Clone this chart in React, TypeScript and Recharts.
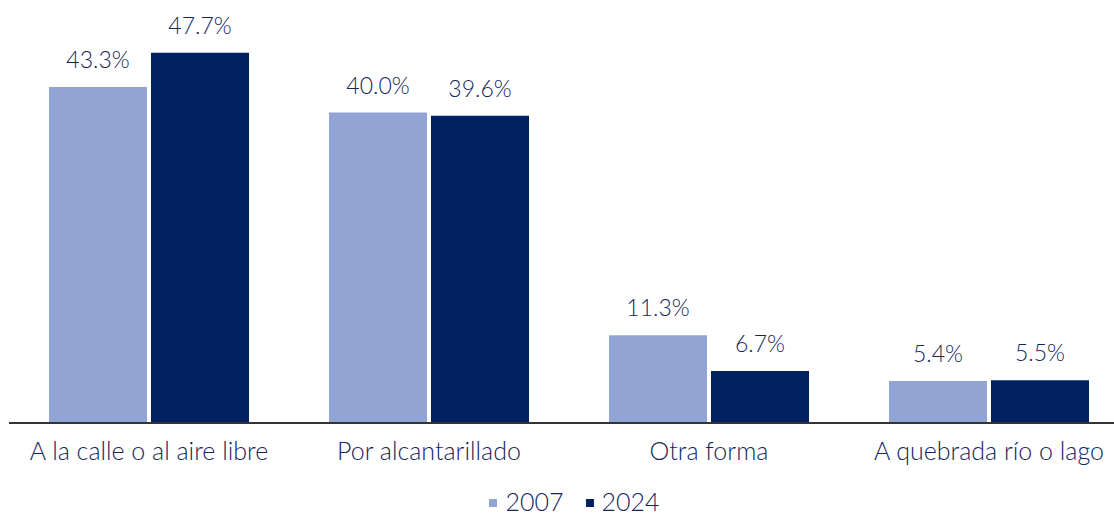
import React from 'react';
import { BarChart, Bar, XAxis, YAxis, LabelList, Legend } from 'recharts';

const categories = ['A la calle o al aire libre', 'Por alcantarillado', 'Otra forma', 'A quebrada río o lago'];
const values2007 = [43.3, 40.0, 11.3, 5.4];
const values2024 = [47.7, 39.6, 6.7, 5.5];
const seriesNames = ['2007', '2024'];

const colors = ['#91A4D4', '#00205F'];
const textColor = '#14265A';
const font = 'Lato, "Open Sans", sans-serif';

const data = categories.map((name, i) => ({
  name,
  v2007: values2007[i],
  v2024: values2024[i],
}));

const fmt = (v: any) => `${Number(v).toFixed(1)}%`;

const renderLegend = () => (
  <div style={{ display: 'flex', justifyContent: 'center', fontFamily: font, fontWeight: 300, fontSize: 25, lineHeight: '28px', color: textColor }}>
    {seriesNames.map((s, i) => (
      <div key={s} style={{ display: 'flex', alignItems: 'center', marginRight: i === 0 ? 22 : 0 }}>
        <span style={{ width: 8, height: 8, background: colors[i], display: 'inline-block', marginRight: 8, marginTop: 3 }} />
        <span>{s}</span>
      </div>
    ))}
  </div>
);

const App: React.FC = () => {
  return (
    <div style={{ position: 'absolute', left: 0, top: 0, width: 1114, height: 515, overflow: 'hidden', background: '#fff' }}>
      <BarChart
        width={1129}
        height={515}
        data={data}
        margin={{ top: 35, right: 0, left: 9, bottom: 34 }}
        barCategoryGap={40}
        barGap={4}
      >
        <XAxis
          dataKey="name"
          axisLine={{ stroke: '#333', strokeWidth: 2 }}
          tickLine={false}
          tickSize={0}
          tickMargin={19}
          interval={0}
          tick={{ fill: textColor, fontSize: 25, fontFamily: font, fontWeight: 300 }}
        />
        <YAxis hide domain={[0, 50]} />
        <Legend
          verticalAlign="bottom"
          content={renderLegend}
          wrapperStyle={{ bottom: 0, left: 10, width: 1129 }}
        />
        <Bar dataKey="v2007" name="2007" fill={colors[0]} isAnimationActive={false}>
          <LabelList dataKey="v2007" position="top" offset={19} formatter={fmt} fill={textColor} fontSize={23} fontFamily={font} fontWeight={300} />
        </Bar>
        <Bar dataKey="v2024" name="2024" fill={colors[1]} isAnimationActive={false}>
          <LabelList dataKey="v2024" position="top" offset={19} formatter={fmt} fill={textColor} fontSize={23} fontFamily={font} fontWeight={300} />
        </Bar>
      </BarChart>
    </div>
  );
};

export default App;
